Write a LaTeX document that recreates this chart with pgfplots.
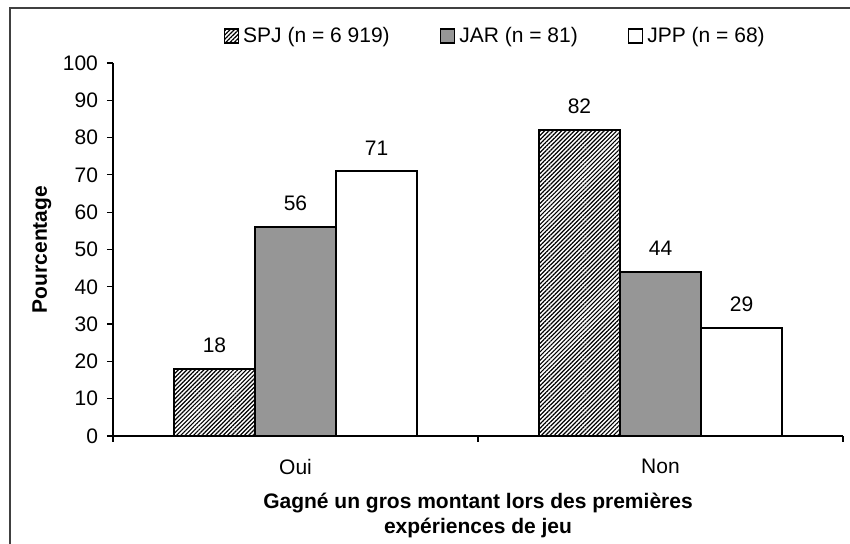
\documentclass[border=0pt]{standalone}
\usepackage{fontspec}
\setmainfont{Liberation Sans}
\usepackage{pgfplots}
\pgfplotsset{compat=1.18}
\usetikzlibrary{patterns.meta}
\definecolor{bargray}{RGB}{150,150,150}
\begin{document}
\begin{tikzpicture}[font=\fontsize{10.5}{12.6}\selectfont]
\path[use as bounding box] (-56.5pt,-54pt) rectangle (368.5pt,218pt);
\draw[line width=0.6pt, black!75] (-51.5pt,-54pt) -- (-51.5pt,214pt) -- (368.5pt,214pt);
\begin{axis}[
  at={(0pt,0pt)}, anchor=south west,
  scale only axis, width=365pt, height=186.5pt,
  ybar=0pt, bar width=0.222,
  xmin=-0.5, xmax=1.5, ymin=0, ymax=100,
  enlargelimits=false,
  axis x line*=bottom, axis y line*=left,
  axis line style={line width=0.6pt},
  xtick={-0.5,0.5,1.5}, xticklabels={},
  extra x ticks={0,1}, extra x tick labels={Oui,Non},
  extra x tick style={major tick length=0pt, xticklabel style={yshift=-8pt}},
  ytick={0,10,...,100},
  yticklabel style={xshift=-1pt},
  tick align=outside, major tick length=3pt,
  tick style={line width=0.6pt, black},
  /pgf/number format/assume math mode=true,
  xlabel={Gagné un gros montant lors des premières\\expériences de jeu},
  xlabel style={at={(axis description cs:0.5,0)}, anchor=north, yshift=-25pt, align=center, font=\bfseries\fontsize{10.5}{12.5}\selectfont},
  ylabel={Pourcentage},
  ylabel style={at={(axis description cs:0,0.5)}, anchor=center, yshift=35.5pt, font=\bfseries\fontsize{10.5}{12.6}\selectfont},
  nodes near coords,
  every node near coord/.append style={yshift=4.3pt, black},
  legend style={at={(axis description cs:0.151,1.072)}, anchor=west, draw=none, fill=none, inner sep=0pt,
    legend columns=3, /tikz/every even column/.append style={column sep=23pt}},
  legend image code/.code={\draw[#1,line width=0.8pt] (0pt,-3.5pt) rectangle (7pt,3.5pt);},
]
\addplot[draw=black, line width=0.8pt, pattern={Lines[angle=45,distance=1.5pt,line width=0.6pt]}] coordinates {(0,18) (1,82)};
\addplot[draw=black, line width=0.8pt, fill=bargray] coordinates {(0,56) (1,44)};
\addplot[draw=black, line width=0.8pt, fill=white] coordinates {(0,71) (1,29)};
\legend{SPJ (n = 6 919), JAR (n = 81), JPP (n = 68)}
\end{axis}
\end{tikzpicture}
\end{document}
